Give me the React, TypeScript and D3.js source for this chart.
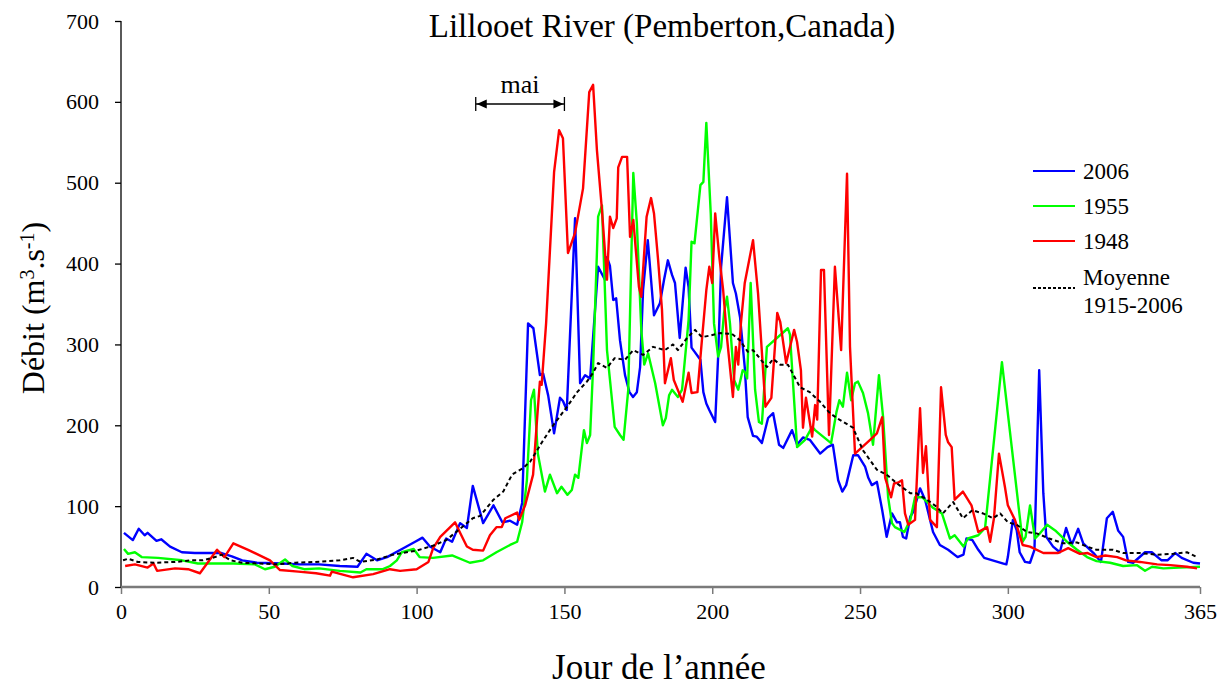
import React, { useEffect, useRef } from 'react';
import * as d3 from 'd3';

type Pt = [number, number];

// day of year, discharge (m3/s)
const blue2006: Pt[] = [
  [1, 67], [4, 58], [6, 72], [8, 64], [9, 67], [12, 57], [13.6, 59], [16.6, 50], [20.6, 43], [25, 42], [29.5, 42], [34, 42],
  [37.5, 38], [41, 33], [46, 30], [54.5, 29], [60.5, 28], [67, 28], [74, 26], [80, 25], [83, 41], [86.6, 33], [90, 37],
  [95.5, 48], [99.5, 56], [102, 61], [104.5, 50], [108, 43], [110, 60], [112, 56], [114.7, 79], [117, 73], [119, 125],
  [122.5, 79], [126, 101], [129, 80], [131.6, 82], [134, 77], [135.7, 104], [137.7, 326], [139.5, 320], [141.7, 262],
  [142.8, 264], [144.5, 237], [146.5, 190], [148.5, 234], [149.5, 230], [150.8, 219], [153.6, 456], [155.3, 252], [157, 262],
  [158.7, 258], [161.4, 396], [163.7, 380], [164.4, 408], [165.4, 397], [166.5, 355], [167.5, 357], [168.8, 305], [170.5, 262],
  [172, 241], [173.2, 235], [174.5, 241], [175.6, 272], [176.6, 367], [178.2, 429], [179.6, 367], [180.3, 336], [182.3, 351],
  [183.7, 380], [185, 404], [186.4, 386], [187.4, 376], [189, 308], [191, 395], [192, 371], [193, 296], [196, 281], [197, 241],
  [198, 227], [199, 219], [201, 204], [202, 285], [203, 396], [205, 482], [207, 376], [208, 363], [209.4, 334], [211, 272],
  [212, 210], [213.8, 187], [215, 186], [216.8, 178], [218.9, 209], [220.6, 215], [222.6, 176], [224, 172], [227, 194],
  [228.7, 176], [230.7, 185], [233, 182], [236.5, 165], [239, 173], [240.8, 176], [242.6, 132], [244, 118], [245.3, 126],
  [247.7, 163], [249.3, 163], [251.7, 149], [252.8, 135], [254, 126], [255.7, 130], [257.5, 95], [259, 62], [260.8, 91],
  [262.5, 80], [263.5, 80], [264.5, 62], [265.6, 60], [267, 87], [268, 93], [270.3, 122], [272, 108], [274.7, 68], [277, 52],
  [279.8, 46], [283, 37], [285, 40], [286, 60], [288, 58], [290, 46], [292, 36], [298.5, 29], [299.5, 28], [300, 37],
  [301.7, 83], [303, 70], [304, 43], [305.8, 31], [307.5, 30], [309, 46], [310.6, 268], [312, 116], [313, 62], [315.3, 50],
  [317.6, 43], [319.7, 73], [321.6, 52], [323.8, 72], [325.5, 54], [329, 42], [331.5, 31], [333.5, 85], [335.5, 93],
  [337.3, 70], [339, 62], [340.7, 31], [342.4, 30], [346.4, 43], [348.7, 43], [352, 33], [354, 33], [356.6, 42], [358.8, 36],
  [362.7, 30], [365, 29],
];

const green1955: Pt[] = [
  [1, 47], [2.4, 41], [4.7, 43], [7, 37], [12.5, 36], [20.6, 33], [26, 29], [32.8, 29], [38, 29], [45.3, 28], [48.7, 22],
  [52, 25], [55.5, 34], [58, 26], [62, 22], [67, 23], [74, 20], [81, 18], [83, 22], [88.6, 22], [91, 26], [93.3, 33], [95, 43],
  [99, 47], [101, 37], [105.5, 36], [112, 39], [118, 30], [122.5, 33], [127, 43], [131.6, 52], [134, 56], [135.7, 80],
  [137.3, 132], [138.7, 231], [139.7, 244], [141, 165], [143.4, 118], [145.1, 139], [147.5, 116], [149, 124], [151, 114],
  [152.5, 120], [153.6, 139], [154.7, 135], [156.6, 194], [157.6, 178], [158.7, 188], [159.7, 272], [161.4, 458], [162.7, 472],
  [164.4, 293], [167, 198], [168.8, 188], [170, 182], [171.6, 244], [173.3, 512], [174.5, 450], [176, 318], [177, 275],
  [178.3, 289], [180.7, 252], [183.3, 200], [184.3, 209], [185.4, 237], [186.4, 244], [188.4, 235], [189.8, 244], [192, 330],
  [193, 427], [194, 425], [196, 497], [197, 501], [198, 574], [199.5, 462], [200.6, 326], [202, 285], [203, 297], [204, 339],
  [205, 359], [206, 326], [207.4, 256], [208.8, 244], [210.3, 268], [211, 266], [211.8, 258], [213, 376], [214.5, 244],
  [215.8, 204], [216.8, 202], [218.5, 297], [225.6, 320], [226.3, 312], [228.7, 173], [231.4, 182], [233.8, 198], [234.8, 194],
  [237.5, 186], [240.2, 178], [242, 216], [243, 231], [244.2, 223], [245.6, 265], [247, 231], [248.3, 252], [249.3, 254],
  [251, 240], [252.7, 215], [254.4, 176], [256.4, 262], [257.8, 210], [259.5, 111], [260.8, 79], [261.8, 74], [265, 68],
  [267, 83], [268.6, 111], [271, 111], [274.7, 98], [277.7, 91], [280.4, 60], [282, 64], [285, 50], [286.5, 60], [290, 64],
  [292.3, 73], [298, 278], [305, 56], [306, 62], [307.5, 101], [309.2, 60], [311, 67], [313.3, 77], [316, 70], [320, 56],
  [323.4, 46], [326.8, 37], [330, 32], [334.6, 30], [339, 26], [343.7, 27], [346.4, 20], [348.8, 25], [352.6, 23], [358, 24],
  [365, 25],
];

const red1948: Pt[] = [
  [1.4, 26], [4.7, 28], [9, 24], [11, 29], [12.2, 20], [18.3, 23], [22.7, 22], [26.7, 17], [32.5, 46], [35, 37], [38, 54],
  [43, 46], [50.4, 33], [53.8, 21], [60, 19], [66, 17], [70.7, 14], [71.3, 19], [78.5, 12], [85.3, 16], [91, 22], [94.4, 20],
  [100, 22], [104, 31], [105.6, 48], [108, 62], [113, 80], [114.7, 67], [117, 50], [119, 46], [122.5, 45], [124.8, 64],
  [127, 74], [128.8, 74], [130, 85], [134, 92], [134.7, 83], [136.7, 101], [139.4, 139], [140.8, 210], [141.7, 254],
  [142.3, 250], [143.8, 326], [146.5, 513], [148.2, 565], [149.5, 555], [151.2, 413], [153.6, 438], [156.3, 493],
  [158.4, 612], [159.7, 621], [161, 540], [162.7, 466], [164.4, 380], [165.4, 458], [166.5, 444], [167.7, 456], [168.2, 519],
  [169.5, 532], [171.2, 532], [172.2, 433], [173.3, 454], [175.2, 371], [176, 359], [177.8, 458], [179.3, 481], [180.3, 462],
  [181.7, 404], [183, 343], [184, 252], [186, 283], [187, 256], [190, 229], [192, 265], [193, 240], [195, 241], [196.5, 305],
  [198, 367], [199, 396], [200, 376], [201, 462], [202.4, 408], [203.7, 367], [205, 308], [207, 235], [208, 297], [208.8, 275],
  [209.7, 326], [211, 376], [213.8, 429], [215.5, 363], [218, 223], [220, 234], [222, 339], [223, 328], [225, 277],
  [227.7, 318], [228.7, 303], [230, 268], [230.7, 197], [231.7, 234], [233.8, 186], [234.8, 225], [235.5, 207], [236.8, 392],
  [237.8, 392], [239.5, 188], [241.5, 396], [243.6, 293], [245.6, 511], [246.6, 297], [248.3, 165], [253.4, 182], [255.7, 190],
  [257.5, 210], [258.5, 135], [260.5, 111], [261.5, 128], [262.8, 129], [264.2, 132], [265.2, 91], [266.3, 77], [268.6, 83],
  [270.3, 221], [271.3, 141], [272.3, 174], [273.7, 83], [276, 74], [277.4, 247], [279, 188], [279.8, 179], [281, 173],
  [282, 108], [284.8, 118], [287.7, 101], [290, 68], [293, 74], [294, 56], [295.3, 85], [297, 165], [299, 124], [300, 101],
  [302.4, 83], [305, 52], [307.5, 50], [312, 42], [317, 42], [320.4, 48], [324.4, 41], [327, 42], [330, 37], [333, 39],
  [337, 37], [340, 33], [344.7, 31], [350.5, 28], [355, 27], [360.6, 25], [364, 23],
];

const mean1915_2006: Pt[] = [
  [0.7, 33], [2.4, 35], [5.7, 31], [11.5, 30], [18.3, 31], [24, 33], [27.7, 33], [31.8, 37], [34, 40], [37, 33], [41, 30],
  [47, 29], [52.5, 28], [59, 30], [65.6, 31], [74, 33], [78.5, 36], [81, 31], [86.6, 34], [92, 40], [100, 45], [105.5, 51],
  [110, 58], [114.7, 72], [119, 85], [121.5, 88], [126, 108], [129.3, 118], [132.3, 139], [136, 147], [138.4, 155],
  [142.4, 179], [145.8, 198], [150.9, 223], [154.3, 241], [157.6, 254], [159.7, 265], [161.4, 277], [164.4, 271], [167, 283],
  [170.5, 281], [173.3, 293], [176.6, 287], [180, 297], [184, 293], [186.7, 300], [188.4, 293], [191.5, 308], [194.2, 318],
  [196.5, 309], [199.3, 311], [202.6, 314], [206.7, 313], [209.4, 305], [212, 291], [213.8, 293], [218.5, 272], [220.6, 282],
  [223, 275], [225.6, 275], [229.7, 247], [233, 241], [236.5, 229], [239.8, 215], [243, 207], [247.6, 197], [251, 169],
  [255.7, 145], [259, 139], [262.5, 128], [267, 116], [269, 116], [272.6, 108], [276, 99], [278, 91], [281.5, 105],
  [284.8, 85], [288, 95], [291.6, 91], [295, 85], [297.4, 91], [300, 80], [303, 77], [306.5, 68], [310, 66], [314, 60],
  [318.7, 54], [323.4, 55], [326.8, 50], [330, 46], [335.6, 46], [339, 42], [344.7, 42], [350.5, 40], [356, 41], [360.6, 43],
  [364, 37],
];

const xTicks = [0, 50, 100, 150, 200, 250, 300, 365];
const yTicks = [0, 100, 200, 300, 400, 500, 600, 700];
const maiRange = [120, 150];

const series = [
  { name: '2006', data: blue2006, color: '#0000ff', dash: null as string | null },
  { name: '1955', data: green1955, color: '#00ff00', dash: null },
  { name: '1948', data: red1948, color: '#ff0000', dash: null },
  { name: 'Moyenne|1915-2006', data: mean1915_2006, color: '#000000', dash: '4,3' },
];

const FONT = '"Liberation Serif", "Times New Roman", serif';

export default function App() {
  const svgRef = useRef<SVGSVGElement>(null);

  useEffect(() => {
    if (!svgRef.current) return;
    const W = 1220;
    const H = 687;
    const margin = { top: 21, right: 20, bottom: 100, left: 121 };
    const width = W - margin.left - margin.right;
    const height = H - margin.top - margin.bottom;

    const root = d3.select(svgRef.current);
    root.selectAll('*').remove();
    root.attr('width', W).attr('height', H);

    const svg = root.append('g').attr('transform', `translate(${margin.left},${margin.top})`);

    const x = d3.scaleLinear().domain([0, 365]).range([0, width]);
    const y = d3.scaleLinear().domain([0, 700]).range([height, 0]);

    // Y axis
    const yAxis = svg.append('g').call(d3.axisLeft(y).tickValues(yTicks).tickSize(6).tickPadding(16));
    yAxis.select('.domain').attr('stroke', '#000').attr('stroke-width', 1.3).attr('d', `M0,0V${height}`);
    yAxis.selectAll('.tick line').attr('stroke', '#000').attr('stroke-width', 1.3);
    yAxis.selectAll('text').style('font-family', FONT).style('font-size', '22px').attr('fill', '#000');

    // lines
    const line = d3
      .line<Pt>()
      .x(d => x(d[0]))
      .y(d => y(d[1]));

    series.forEach(s => {
      svg
        .append('path')
        .datum(s.data)
        .attr('fill', 'none')
        .attr('stroke', s.color)
        .attr('stroke-width', s.dash ? 2 : 2.4)
        .attr('stroke-linejoin', 'round')
        .attr('stroke-dasharray', s.dash)
        .attr('d', line);
    });

    // X axis (grey)
    const xAxis = svg
      .append('g')
      .attr('transform', `translate(0,${height})`)
      .call(d3.axisBottom(x).tickValues(xTicks).tickSize(7).tickPadding(9));
    xAxis.select('.domain').attr('stroke', '#7a7a7a').attr('stroke-width', 2.5).attr('d', `M0,0H${width}`);
    xAxis.selectAll('.tick line').attr('stroke', '#7a7a7a').attr('stroke-width', 1.5);
    xAxis.selectAll('text').style('font-family', FONT).style('font-size', '22px').attr('fill', '#000');

    // "mai" annotation
    const my = 83;
    const mx0 = x(maiRange[0]);
    const mx1 = x(maiRange[1]);
    const ann = svg.append('g');
    ann.append('line').attr('x1', mx0).attr('x2', mx1).attr('y1', my).attr('y2', my).attr('stroke', '#000').attr('stroke-width', 1.3);
    [mx0, mx1].forEach(px => {
      ann.append('line').attr('x1', px).attr('x2', px).attr('y1', my - 7).attr('y2', my + 7).attr('stroke', '#000').attr('stroke-width', 1.3);
    });
    ann.append('path').attr('d', `M${mx0 + 1},${my}l10,-4.5v9z`).attr('fill', '#000');
    ann.append('path').attr('d', `M${mx1 - 1},${my}l-10,-4.5v9z`).attr('fill', '#000');
    ann
      .append('text')
      .attr('x', (mx0 + mx1) / 2)
      .attr('y', my - 11)
      .attr('text-anchor', 'middle')
      .style('font-family', FONT)
      .style('font-size', '26px')
      .text('mai');

    // legend
    const lg = root.append('g').attr('transform', 'translate(1033,171)');
    const rowY = [0, 35, 70, 117];
    series.forEach((s, i) => {
      lg.append('line')
        .attr('x1', 0)
        .attr('x2', 42)
        .attr('y1', rowY[i])
        .attr('y2', rowY[i])
        .attr('stroke', s.color)
        .attr('stroke-width', s.dash ? 1.8 : 2.2)
        .attr('stroke-dasharray', s.dash ? '3,2' : null);
      const parts = s.name.split('|');
      const t = lg
        .append('text')
        .attr('x', 50)
        .style('font-family', FONT)
        .style('font-size', '23px')
        .attr('fill', '#000');
      if (parts.length === 1) {
        t.attr('y', rowY[i] + 8).text(parts[0]);
      } else {
        t.append('tspan').attr('x', 50).attr('y', rowY[i] - 3).text(parts[0]);
        t.append('tspan').attr('x', 50).attr('y', rowY[i] + 25).text(parts[1]);
      }
    });

    // title
    root
      .append('text')
      .attr('x', 662)
      .attr('y', 37)
      .attr('text-anchor', 'middle')
      .style('font-family', FONT)
      .style('font-size', '33px')
      .text('Lillooet River (Pemberton,Canada)');

    // x label
    root
      .append('text')
      .attr('x', 659)
      .attr('y', 679)
      .attr('text-anchor', 'middle')
      .style('font-family', FONT)
      .style('font-size', '35px')
      .text('Jour de l\u2019ann\u00e9e');

    // y label
    const yl = root
      .append('text')
      .attr('transform', 'translate(44,308) rotate(-90)')
      .attr('text-anchor', 'middle')
      .style('font-family', FONT)
      .style('font-size', '32px');
    yl.append('tspan').text('D\u00e9bit (m');
    yl.append('tspan').attr('dy', -10).style('font-size', '20px').text('3');
    yl.append('tspan').attr('dy', 10).text('.s');
    yl.append('tspan').attr('dy', -10).style('font-size', '20px').text('-1');
    yl.append('tspan').attr('dy', 10).text(')');
  }, []);

  return (
    <div style={{ position: 'absolute', left: 0, top: 0, background: '#fff' }}>
      <svg ref={svgRef} style={{ display: 'block' }} />
    </div>
  );
}
